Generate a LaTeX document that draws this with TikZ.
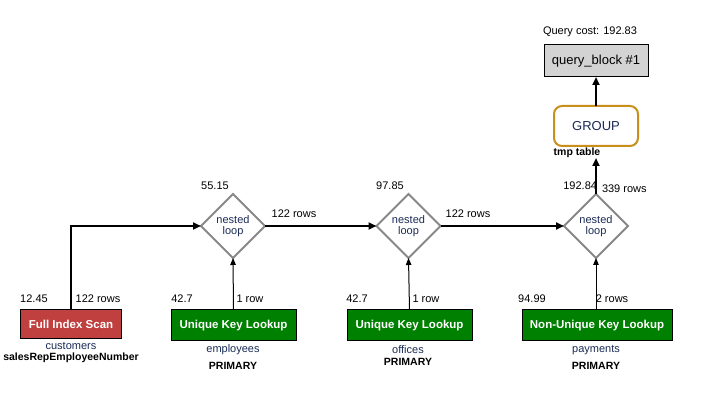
\documentclass[tikz,border=0pt]{standalone}
\usepackage{fontspec}
\setmainfont{Liberation Sans}
\usetikzlibrary{arrows.meta,shapes.geometric}
\definecolor{navy}{HTML}{1A2A55}
\definecolor{scanred}{HTML}{C04040}
\definecolor{lookgreen}{HTML}{008000}
\definecolor{loopgray}{HTML}{888888}
\definecolor{groupgold}{HTML}{C8901A}
\definecolor{qbgray}{HTML}{D3D3D3}
\tikzset{
  every node/.style={inner sep=0pt, outer sep=0pt},
  lbl/.style={font=\fontsize{11}{13}\selectfont, text=black},
  tbl/.style={font=\fontsize{11}{13}\selectfont, text=navy},
  keyname/.style={font=\fontsize{10.5}{12}\selectfont\bfseries, text=black},
  opbox/.style={draw=black, line width=1pt, text=white,
    font=\fontsize{11.5}{13}\selectfont\bfseries, minimum height=31pt},
  loopshape/.style={draw=loopgray, line width=2pt, diamond, aspect=1,
    minimum width=64pt, minimum height=64pt},
  looptext/.style={font=\fontsize{11}{11}\selectfont, text=navy, align=center},
  thick flow/.style={line width=2pt, -{Triangle[length=8pt,width=7pt]}},
  thin flow/.style={line width=1pt, -{Triangle[length=7pt,width=5.5pt]}},
}
\begin{document}
\begin{tikzpicture}[x=1pt,y=-1pt]
\useasboundingbox (0,0) rectangle (712,419);

% top of the plan
\node[draw=black, line width=1pt, fill=qbgray, minimum width=104pt, minimum height=32pt,
  font=\fontsize{13}{15}\selectfont] (qb) at (596,61) {query\_block \#1};
\node[lbl] (cost) at (590,32) {Query cost: 192.83};
\node[draw=groupgold, line width=2pt, rounded corners=8pt, minimum width=84pt, minimum height=40pt,
  font=\fontsize{13}{15}\selectfont, text=navy] (grp) at (596,126) {GROUP};
\node[keyname] (tmp) at (577,153) {tmp table};
\coordinate (tmpin) at (596,158);

% join operators
\node[loopshape] (j1) at (233,226) {};
\node[looptext] (j1t) at (233,226) {nested\\loop};
\node[loopshape] (j2) at (408.5,226) {};
\node[looptext] (j2t) at (408.5,226) {nested\\loop};
\node[loopshape] (j3) at (596,226) {};
\node[looptext] (j3t) at (596,226) {nested\\loop};

\node[lbl] (c1) at (215,186) {55.15};
\node[lbl] (c2) at (390,186) {97.85};
\node[lbl, anchor=east] (c3) at (597,186) {192.84};
\node[lbl, anchor=west] (r3) at (602,189) {339 rows};
\node[lbl] (r1) at (294,214) {122 rows};
\node[lbl] (r2) at (468,214) {122 rows};

% table accesses
\node[opbox, fill=scanred, minimum width=101pt, minimum height=29pt] (s0) at (71,324) {Full Index Scan};
\node[opbox, fill=lookgreen, minimum width=125pt] (s1) at (233.5,325.5) {Unique Key Lookup};
\node[opbox, fill=lookgreen, minimum width=125pt] (s2) at (409.5,325.5) {Unique Key Lookup};
\node[opbox, fill=lookgreen, minimum width=150pt] (s3) at (597,325.5) {Non-Unique Key Lookup};

\node[lbl] (s0c) at (34,299) {12.45};
\node[lbl] (s0r) at (98,299) {122 rows};
\node[lbl] (s1c) at (182,299) {42.7};
\node[lbl] (s1r) at (250,299) {1 row};
\node[lbl] (s2c) at (357,299) {42.7};
\node[lbl] (s2r) at (426,299) {1 row};
\node[lbl] (s3c) at (532,299) {94.99};
\node[lbl] (s3r) at (612,299) {2 rows};

\node[tbl] (t0) at (71,346) {customers};
\node[keyname] (k0) at (71,358) {salesRepEmployeeNumber};
\node[tbl] (t1) at (233,350) {employees};
\node[keyname] (k1) at (233,366) {PRIMARY};
\node[tbl] (t2) at (408,350) {offices};
\node[keyname] (k2) at (408,362) {PRIMARY};
\node[tbl] (t3) at (596,350) {payments};
\node[keyname] (k3) at (596,366) {PRIMARY};

% data flow
\draw[thick flow] (s0.north) |- (j1.west);
\draw[thick flow] (j1.east) -- (j2.west);
\draw[thick flow] (j2.east) -- (j3.west);
\draw[thick flow] (j3.north) -- (tmpin);
\draw[thick flow] (grp.north) -- (qb.south);
\draw[thin flow] (s1.north) -- (j1.south);
\draw[thin flow] (s2.north) -- (j2.south);
\draw[thin flow] (s3.north -| j3.south) -- (j3.south);
\end{tikzpicture}
\end{document}
